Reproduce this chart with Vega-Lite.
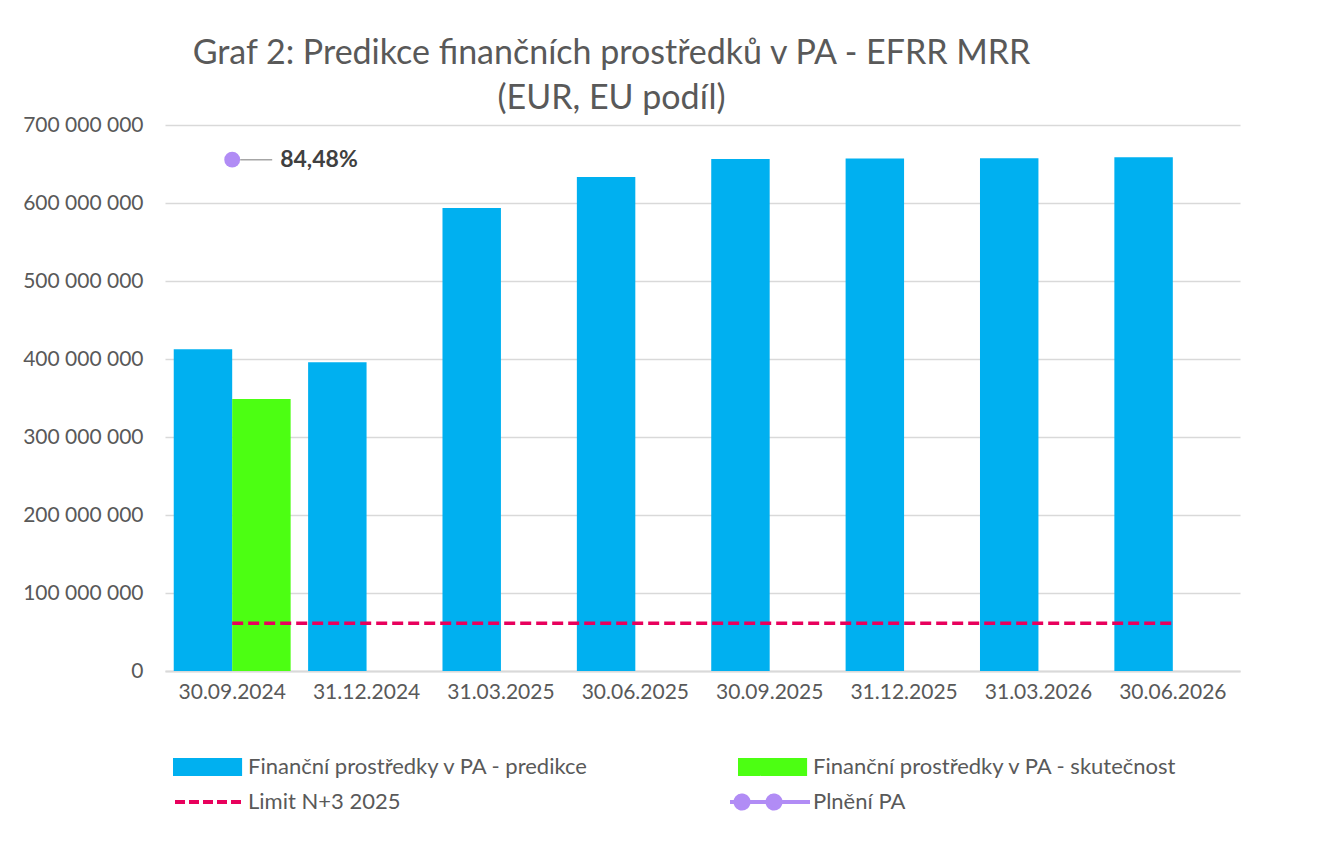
{
  "$schema": "https://vega.github.io/schema/vega-lite/v6.json",
  "width": 1075,
  "height": 546,
  "autosize": {"type": "none"},
  "padding": {"left": 165, "top": 125, "right": 86, "bottom": 180},
  "background": "white",
  "config": {
    "font": "Lato",
    "view": {"stroke": null},
    "locale": {"number": {"decimal": ",", "thousands": " ", "grouping": [3], "currency": ["", " €"]}}
  },
  "title": {
    "text": ["Graf 2: Predikce finančních prostředků v PA - EFRR MRR", "(EUR, EU podíl)"],
    "anchor": "middle",
    "frame": "group",
    "dx": -91,
    "offset": -2,
    "fontSize": 34,
    "fontWeight": "normal",
    "color": "#595959",
    "lineHeight": 45
  },
  "datasets": {
    "bars": [
      {"date": "30.09.2024", "series": "Finanční prostředky v PA - predikce", "value": 412500000},
      {"date": "30.09.2024", "series": "Finanční prostředky v PA - skutečnost", "value": 348800000},
      {"date": "31.12.2024", "series": "Finanční prostředky v PA - predikce", "value": 395800000},
      {"date": "31.03.2025", "series": "Finanční prostředky v PA - predikce", "value": 593600000},
      {"date": "30.06.2025", "series": "Finanční prostředky v PA - predikce", "value": 633300000},
      {"date": "30.09.2025", "series": "Finanční prostředky v PA - predikce", "value": 656500000},
      {"date": "31.12.2025", "series": "Finanční prostředky v PA - predikce", "value": 657000000},
      {"date": "31.03.2026", "series": "Finanční prostředky v PA - predikce", "value": 657300000},
      {"date": "30.06.2026", "series": "Finanční prostředky v PA - predikce", "value": 658600000}
    ],
    "limit": [
      {"date": "30.09.2024", "series": "Limit N+3 2025", "value": 61200000},
      {"date": "31.12.2024", "series": "Limit N+3 2025", "value": 61200000},
      {"date": "31.03.2025", "series": "Limit N+3 2025", "value": 61200000},
      {"date": "30.06.2025", "series": "Limit N+3 2025", "value": 61200000},
      {"date": "30.09.2025", "series": "Limit N+3 2025", "value": 61200000},
      {"date": "31.12.2025", "series": "Limit N+3 2025", "value": 61200000},
      {"date": "31.03.2026", "series": "Limit N+3 2025", "value": 61200000},
      {"date": "30.06.2026", "series": "Limit N+3 2025", "value": 61200000}
    ],
    "plneni": [
      {"date": "30.09.2024", "series": "Plnění PA", "value": 655500000, "label": "84,48%"}
    ]
  },
  "encoding": {
    "x": {
      "field": "date",
      "type": "nominal",
      "sort": ["30.09.2024", "31.12.2024", "31.03.2025", "30.06.2025", "30.09.2025", "31.12.2025", "31.03.2026", "30.06.2026"],
      "scale": {"paddingInner": 0.13, "paddingOuter": 0.065},
      "axis": {
        "title": null,
        "labelAngle": 0,
        "labelFontSize": 21,
        "labelColor": "#595959",
        "labelPadding": 10,
        "ticks": false,
        "domain": true,
        "domainColor": "#d9d9d9",
        "domainWidth": 2,
        "grid": false
      }
    },
    "y": {
      "field": "value",
      "type": "quantitative",
      "scale": {"domain": [0, 700000000], "nice": false},
      "axis": {
        "title": null,
        "values": [0, 100000000, 200000000, 300000000, 400000000, 500000000, 600000000, 700000000],
        "format": ",.0f",
        "labelFontSize": 21,
        "labelColor": "#595959",
        "labelPadding": 22,
        "ticks": false,
        "domain": false,
        "grid": true,
        "gridColor": "#d9d9d9",
        "gridWidth": 1.5
      }
    }
  },
  "layer": [
    {
      "data": {"name": "bars"},
      "mark": {"type": "bar"},
      "encoding": {
        "xOffset": {
          "field": "series",
          "type": "nominal",
          "sort": ["Finanční prostředky v PA - predikce", "Finanční prostředky v PA - skutečnost"],
          "scale": {"paddingInner": 0, "paddingOuter": 0}
        },
        "color": {
          "field": "series",
          "type": "nominal",
          "scale": {
            "domain": ["Finanční prostředky v PA - predikce", "Finanční prostředky v PA - skutečnost", "Limit N+3 2025", "Plnění PA"],
            "range": ["#00B0F0", "#4CFF12", "#E8005C", "#B18CF5"]
          },
          "legend": {
            "orient": "none",
            "legendX": 6,
            "legendY": 631,
            "title": null,
            "columns": 2,
            "direction": "horizontal",
            "columnPadding": 131,
            "rowPadding": 5,
            "padding": 0,
            "symbolSize": 196,
            "labelFontSize": 22,
            "labelColor": "#595959",
            "labelOffset": 55,
            "labelLimit": 600,
            "encode": {
              "symbols": {
                "update": {
                  "shape": {"signal": "datum.value === 'Limit N+3 2025' ? 'M-1,0H8.5' : datum.value === 'Plnění PA' ? 'M-2.43,0H9M0.22,0A0.93,0.93 0 1 1 -1.64,0A0.93,0.93 0 1 1 0.22,0ZM4.79,0A0.93,0.93 0 1 1 2.93,0A0.93,0.93 0 1 1 4.79,0Z' : 'M-1,-1H8.3V1H-1Z'"},
                  "fill": {"signal": "datum.value === 'Limit N+3 2025' ? 'transparent' : scale('color', datum.value)"},
                  "stroke": {"signal": "datum.value === 'Limit N+3 2025' || datum.value === 'Plnění PA' ? scale('color', datum.value) : 'transparent'"},
                  "strokeWidth": {"value": 4},
                  "strokeDash": {"signal": "datum.value === 'Limit N+3 2025' ? [10, 4] : [1, 0]"},
                  "opacity": {"value": 1},
                  "fillOpacity": {"value": 1},
                  "strokeOpacity": {"value": 1}
                }
              }
            }
          }
        }
      }
    },
    {
      "data": {"name": "limit"},
      "mark": {"type": "line", "strokeDash": [11, 5], "strokeWidth": 3.5},
      "encoding": {
        "color": {"field": "series", "type": "nominal"}
      }
    },
    {
      "data": {"name": "plneni"},
      "mark": {"type": "rule", "color": "#a6a6a6", "strokeWidth": 1.5, "xOffset": 8, "x2Offset": 40},
      "encoding": {
        "x2": {"field": "date"}
      }
    },
    {
      "data": {"name": "plneni"},
      "mark": {"type": "point", "filled": true, "size": 250, "opacity": 1},
      "encoding": {
        "color": {"field": "series", "type": "nominal"}
      }
    },
    {
      "data": {"name": "plneni"},
      "mark": {"type": "text", "align": "left", "baseline": "middle", "dx": 48, "fontSize": 23, "fontWeight": "bold", "color": "#404040"},
      "encoding": {
        "text": {"field": "label"}
      }
    }
  ]
}
